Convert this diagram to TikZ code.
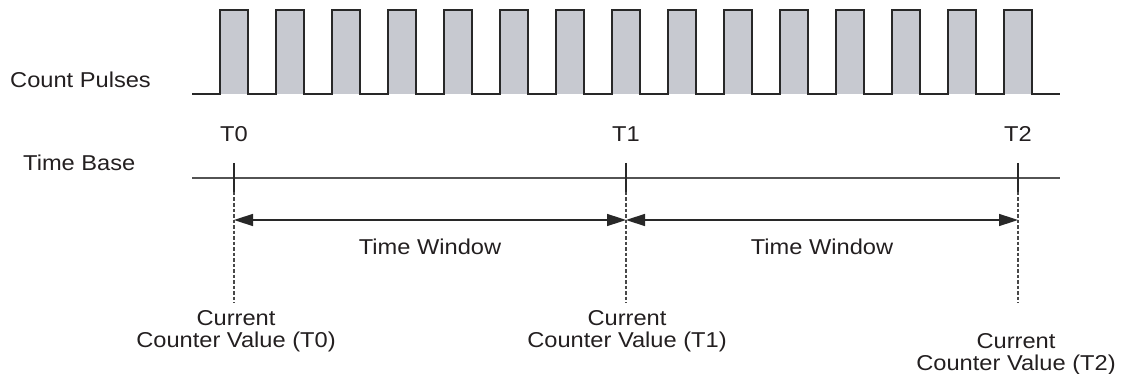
\documentclass[tikz,border=0pt]{standalone}
\usepackage{fontspec}
\setmainfont{Liberation Sans}[FakeStretch=1.1]
\usetikzlibrary{arrows.meta}
\definecolor{pulsegray}{RGB}{199,201,208}
\definecolor{ink}{RGB}{40,40,40}
\definecolor{txt}{RGB}{35,31,32}
\tikzset{
  lbl/.style={font=\fontsize{21.5}{22}\selectfont, text=txt, inner sep=0pt},
  pulseline/.style={draw=ink, line width=2pt, line join=miter},
  baseline/.style={draw=ink!80, line width=1.6pt},
  tick/.style={draw=ink, line width=1.5pt},
  dotline/.style={draw=ink!85, line width=1.5pt, dash pattern=on 3.5pt off 2pt},
  winarrow/.style={draw=ink, line width=1.5pt, {Triangle[length=19pt,width=12pt]}-{Triangle[length=19pt,width=12pt]}}
}
\begin{document}
\begin{tikzpicture}[x=1pt,y=-1pt]
\useasboundingbox (0,0) rectangle (1121,374);
% pulse fills
\foreach \i in {0,...,14}{
  \fill[pulsegray] ({220+56*\i},10) rectangle ({248+56*\i},94);
}
% pulse outline
\coordinate (pstart) at (192,94);
\coordinate (pend) at (1060,94);
\draw[pulseline] (pstart) \foreach \i in {0,...,14}{
  -- ({220+56*\i},94) -- ({220+56*\i},10) -- ({248+56*\i},10) -- ({248+56*\i},94)
} -- (pend);
% time base line
\coordinate (bstart) at (192,178);
\coordinate (bend) at (1060,178);
\draw[baseline] (bstart) -- (bend);
% ticks
\foreach \n/\x in {0/234,1/626,2/1018}{
  \coordinate (a\n) at (\x,163);
  \coordinate (b\n) at (\x,192);
  \coordinate (c\n) at (\x,303);
  \coordinate (w\n) at (\x,220);
  \draw[tick] (a\n) -- (b\n);
  \draw[dotline] (b\n) -- (c\n);
}
% window arrows
\draw[winarrow] (w0) -- (w1);
\draw[winarrow] (w1) -- (w2);
% labels
\node[lbl, anchor=base west] (cp) at (10,88) {Count Pulses};
\node[lbl, anchor=base west] (tb) at (23,171) {Time Base};
\node[lbl, anchor=base] (lt0) at (234,142) {T0};
\node[lbl, anchor=base] (lt1) at (626,142) {T1};
\node[lbl, anchor=base] (lt2) at (1018,142) {T2};
\node[lbl, anchor=base] (tw1) at (430,254) {Time Window};
\node[lbl, anchor=base] (tw2) at (822,254) {Time Window};
\node[lbl, anchor=north, align=center] (cv0) at (236,310) {Current\\Counter Value (T0)};
\node[lbl, anchor=north, align=center] (cv1) at (627,310) {Current\\Counter Value (T1)};
\node[lbl, anchor=north, align=center] (cv2) at (1016,333) {Current\\Counter Value (T2)};
\end{tikzpicture}
\end{document}
